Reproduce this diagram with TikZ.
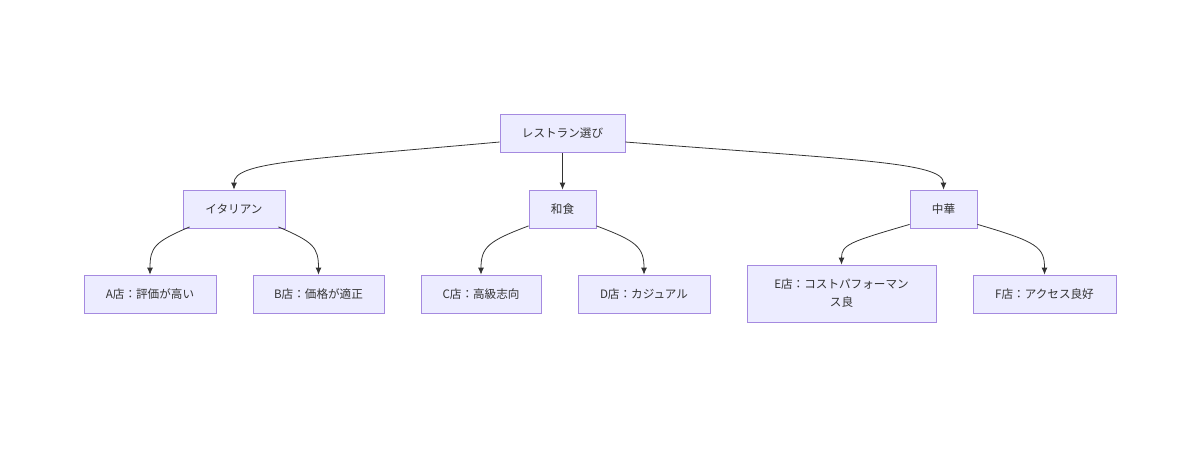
\documentclass[tikz,border=0pt]{standalone}
\usepackage{fontspec}
\setmainfont{Noto Sans CJK JP}
\usetikzlibrary{arrows.meta,calc}
\definecolor{mfill}{HTML}{ECECFF}
\definecolor{mborder}{HTML}{A58AE0}
\definecolor{mtext}{HTML}{333333}
\begin{document}
\begin{tikzpicture}[
  box/.style={draw=mborder,fill=mfill,line width=0.45pt,text=mtext,inner sep=0pt,
    font=\fontsize{6.6pt}{10.2pt}\selectfont,align=center,minimum height=0.76cm},
  link/.style={draw=mtext,line width=0.45pt,-{Latex[length=0.14cm,width=0.12cm]}}
]
\useasboundingbox (0,0) rectangle (24,-9);
\node[box,minimum width=2.5cm] (root) at (11.25,-2.67) {レストラン選び};
\node[box,minimum width=2.04cm] (ita) at (4.68,-4.18) {イタリアン};
\node[box,minimum width=1.34cm] (wa) at (11.25,-4.18) {和食};
\node[box,minimum width=1.34cm] (chu) at (18.87,-4.18) {中華};
\node[box,minimum width=2.64cm] (a) at (3.0,-5.88) {A店：評価が高い};
\node[box,minimum width=2.62cm] (b) at (6.37,-5.88) {B店：価格が適正};
\node[box,minimum width=2.4cm] (c) at (9.62,-5.88) {C店：高級志向};
\node[box,minimum width=2.64cm] (d) at (12.88,-5.88) {D店：カジュアル};
\node[box,minimum width=3.78cm,minimum height=1.14cm] (e) at (16.83,-5.87) {E店：コストパフォーマン\\ス良};
\node[box,minimum width=2.86cm] (f) at (20.89,-5.88) {F店：アクセス良好};

\draw[link] ([yshift=-0.17cm]root.west) .. controls +(-4,-0.36) and +(0,0.55) .. (ita.north);
\draw[link] (root.south) -- (wa.north);
\draw[link] ([yshift=-0.17cm]root.east) .. controls +(4.6,-0.36) and +(0,0.55) .. (chu.north);

\draw[link] ([xshift=0.14cm,yshift=0.03cm]ita.south west) .. controls +(-0.7,-0.3) and +(0,0.55) .. (a.north);
\draw[link] ([xshift=-0.14cm,yshift=0.03cm]ita.south east) .. controls +(0.7,-0.3) and +(0,0.55) .. (b.north);
\draw[link] ([yshift=0.05cm]wa.south west) .. controls +(-0.8,-0.3) and +(0,0.55) .. (c.north);
\draw[link] ([yshift=0.05cm]wa.south east) .. controls +(0.8,-0.3) and +(0,0.55) .. (d.north);
\draw[link] ([yshift=0.08cm]chu.south west) .. controls +(-1.2,-0.35) and +(0,0.4) .. (e.north);
\draw[link] ([yshift=0.08cm]chu.south east) .. controls +(1.2,-0.35) and +(0,0.55) .. (f.north);
\end{tikzpicture}
\end{document}
